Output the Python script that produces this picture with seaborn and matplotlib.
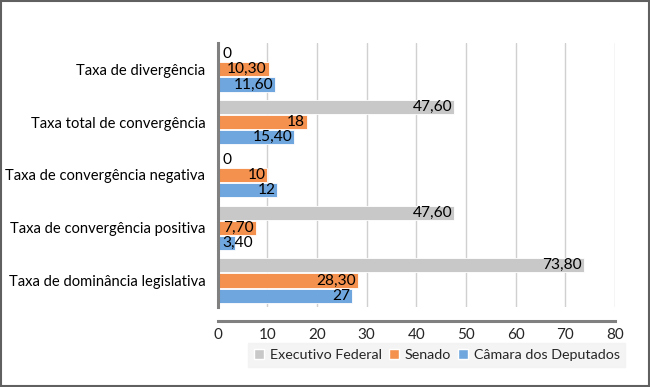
import matplotlib
matplotlib.use("Agg")
import matplotlib.pyplot as plt
import seaborn as sns
import pandas as pd
from matplotlib.patches import Rectangle

categories = ["Taxa de divergência", "Taxa total de convergência",
              "Taxa de convergência negativa", "Taxa de convergência positiva",
              "Taxa de dominância legislativa"]
series = ["Executivo Federal", "Senado", "Câmara dos Deputados"]
executivo = [0, 47.6, 0, 47.6, 73.8]
senado = [10.3, 18, 10, 7.7, 28.3]
camara = [11.6, 15.4, 12, 3.4, 27]
x_ticks = [0, 10, 20, 30, 40, 50, 60, 70, 80]
colors = ["#C8C8C8", "#F4914E", "#6FA6DE"]

rows = []
for s, vals in zip(series, [executivo, senado, camara]):
    for c, v in zip(categories, vals):
        rows.append({"cat": c, "serie": s, "val": v})
df = pd.DataFrame(rows)

sns.set_theme(style="white")
plt.rcParams['font.family'] = ['Lato', 'DejaVu Sans']

fig = plt.figure(figsize=(6.5, 3.87), dpi=100)
ax = fig.add_axes([0.335, 0.207, 0.611, 0.682])

sns.barplot(data=df, y="cat", x="val", hue="serie", order=categories,
            hue_order=series, palette=colors, orient="h", width=0.86,
            gap=0.07, ax=ax, legend=True, saturation=1, zorder=2)

ax.set_xlim(0, 80)
ax.set_xticks(x_ticks)
ax.set_xticklabels([str(t) for t in x_ticks], fontsize=11.5, color="#000000")
ax.set_xlabel("")
ax.set_ylabel("")
ax.tick_params(axis="y", labelsize=10.6, colors="#000000", length=0, pad=9)
ax.tick_params(axis="x", length=0, pad=5)
ax.xaxis.grid(True, color="#D0D0D0", linewidth=1, zorder=0)
ax.set_axisbelow(True)

for side in ["top", "right"]:
    ax.spines[side].set_visible(False)
ax.spines["left"].set_color("#808080")
ax.spines["left"].set_linewidth(2.2)
ax.spines["bottom"].set_color("#808080")
ax.spines["bottom"].set_linewidth(2.2)
ax.spines["bottom"].set_position(("outward", 10))


def fmt(v):
    if float(v).is_integer():
        return str(int(v))
    return f"{v:.2f}".replace(".", ",")


for cont in ax.containers:
    for bar in cont:
        w = bar.get_width()
        yc = bar.get_y() + bar.get_height() / 2
        bar.set_edgecolor("white")
        bar.set_linewidth(0.6)
        lab = fmt(w)
        if w < 6:
            ax.text(0.9, yc, lab, ha="left", va="center", fontsize=11.2,
                    color="#000000", zorder=5)
        else:
            ax.text(w - 0.4, yc, lab, ha="right", va="center", fontsize=11.2,
                    color="#000000", zorder=5)

ax.get_legend().remove()
handles, labels = ax.get_legend_handles_labels()
leg = fig.legend(handles, labels, loc="center", bbox_to_anchor=(0.672, 0.083),
                 ncol=3, frameon=True, fontsize=10.3, handlelength=0.7,
                 handleheight=0.7, handletextpad=0.4, columnspacing=0.5,
                 borderpad=0.4, fancybox=False)
leg.get_frame().set_facecolor("#F2F2F2")
leg.get_frame().set_edgecolor("#F2F2F2")

fig.patches.append(Rectangle((0.002, 0.003), 0.996, 0.994, transform=fig.transFigure,
                             fill=False, edgecolor="#606060", linewidth=1.5))

fig.savefig("out.png", dpi=100)
